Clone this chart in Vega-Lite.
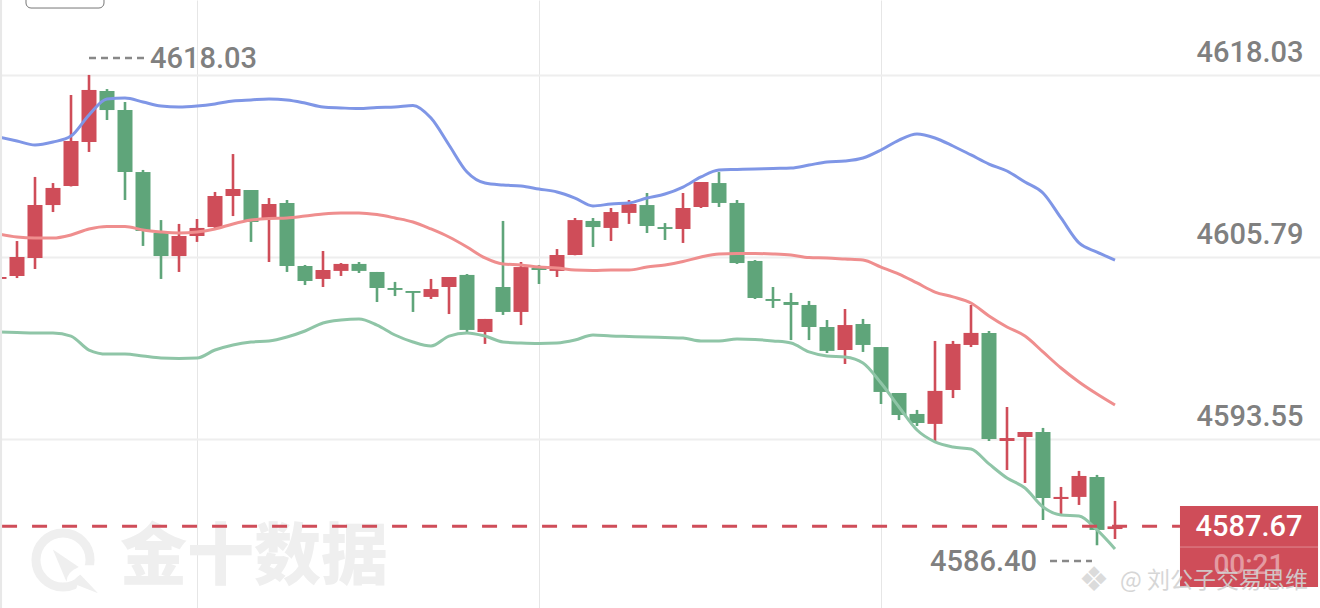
{"$schema":"https://vega.github.io/schema/vega-lite/v6.json","width":1320,"height":608,"autosize":"none","padding":0,"background":"#ffffff","config":{"view":{"stroke":null},"font":"Roboto"},
"datasets":{"k":[
{"i":-1,"o":4604.31,"h":4604.44,"l":4604.31,"c":4604.44,"up":4613.86,"mid":4607.33,"low":4600.74},
{"i":0,"o":4604.51,"h":4606.86,"l":4604.37,"c":4605.79,"up":4613.59,"mid":4607.13,"low":4600.71},
{"i":1,"o":4605.72,"h":4611.17,"l":4604.98,"c":4609.28,"up":4613.32,"mid":4607.06,"low":4600.68},
{"i":2,"o":4609.28,"h":4610.76,"l":4608.81,"c":4610.43,"up":4613.52,"mid":4607.06,"low":4600.68},
{"i":3,"o":4610.56,"h":4616.68,"l":4610.53,"c":4613.59,"up":4613.92,"mid":4607.27,"low":4600.47},
{"i":4,"o":4613.52,"h":4618.03,"l":4612.85,"c":4617.02,"up":4615.34,"mid":4607.67,"low":4599.53},
{"i":5,"o":4616.95,"h":4617.08,"l":4615.0,"c":4615.67,"up":4616.41,"mid":4607.84,"low":4599.26},
{"i":6,"o":4615.67,"h":4616.21,"l":4609.62,"c":4611.5,"up":4616.48,"mid":4607.84,"low":4599.26},
{"i":7,"o":4611.5,"h":4611.64,"l":4606.53,"c":4607.54,"up":4616.21,"mid":4607.6,"low":4599.13},
{"i":8,"o":4607.4,"h":4608.27,"l":4604.31,"c":4605.85,"up":4615.94,"mid":4607.47,"low":4598.99},
{"i":9,"o":4605.85,"h":4608.01,"l":4604.78,"c":4607.2,"up":4615.87,"mid":4607.4,"low":4598.96},
{"i":10,"o":4607.2,"h":4608.34,"l":4606.8,"c":4607.74,"up":4615.94,"mid":4607.47,"low":4598.99},
{"i":11,"o":4607.8,"h":4610.16,"l":4607.74,"c":4609.89,"up":4616.08,"mid":4607.67,"low":4599.53},
{"i":12,"o":4609.89,"h":4612.71,"l":4608.54,"c":4610.36,"up":4616.28,"mid":4608.01,"low":4599.87},
{"i":13,"o":4610.29,"h":4610.29,"l":4606.8,"c":4608.14,"up":4616.35,"mid":4608.27,"low":4600.07},
{"i":14,"o":4608.34,"h":4609.75,"l":4605.45,"c":4609.35,"up":4616.41,"mid":4608.38,"low":4600.14},
{"i":15,"o":4609.42,"h":4609.62,"l":4604.78,"c":4605.18,"up":4616.35,"mid":4608.41,"low":4600.41},
{"i":16,"o":4605.18,"h":4605.25,"l":4603.9,"c":4604.17,"up":4616.14,"mid":4608.54,"low":4600.81},
{"i":17,"o":4604.31,"h":4606.19,"l":4603.77,"c":4604.91,"up":4615.87,"mid":4608.68,"low":4601.35},
{"i":18,"o":4604.85,"h":4605.38,"l":4604.51,"c":4605.32,"up":4615.81,"mid":4608.75,"low":4601.55},
{"i":19,"o":4605.32,"h":4605.45,"l":4604.71,"c":4604.85,"up":4615.77,"mid":4608.75,"low":4601.62},
{"i":20,"o":4604.78,"h":4604.78,"l":4602.76,"c":4603.7,"up":4615.84,"mid":4608.64,"low":4601.21},
{"i":21,"o":4603.7,"h":4604.11,"l":4603.16,"c":4603.57,"up":4615.87,"mid":4608.41,"low":4600.54},
{"i":22,"o":4603.5,"h":4603.5,"l":4602.09,"c":4603.37,"up":4615.98,"mid":4608.14,"low":4600.07},
{"i":23,"o":4603.1,"h":4604.31,"l":4602.96,"c":4603.63,"up":4615.13,"mid":4607.67,"low":4599.8},
{"i":24,"o":4603.77,"h":4604.44,"l":4601.95,"c":4604.44,"up":4613.32,"mid":4607.13,"low":4600.47},
{"i":25,"o":4604.58,"h":4604.64,"l":4600.74,"c":4600.88,"up":4611.5,"mid":4606.46,"low":4600.68},
{"i":26,"o":4600.74,"h":4601.62,"l":4599.94,"c":4601.62,"up":4610.76,"mid":4605.72,"low":4600.47},
{"i":27,"o":4603.77,"h":4608.21,"l":4601.89,"c":4602.09,"up":4610.63,"mid":4605.32,"low":4600.07},
{"i":28,"o":4602.09,"h":4605.45,"l":4601.21,"c":4605.11,"up":4610.56,"mid":4605.25,"low":4600.0},
{"i":29,"o":4605.05,"h":4605.25,"l":4603.97,"c":4604.91,"up":4610.36,"mid":4605.11,"low":4599.97},
{"i":30,"o":4604.85,"h":4606.32,"l":4604.44,"c":4605.92,"up":4610.16,"mid":4605.05,"low":4600.0},
{"i":31,"o":4605.92,"h":4608.41,"l":4605.9,"c":4608.27,"up":4609.75,"mid":4604.91,"low":4600.2},
{"i":32,"o":4608.21,"h":4608.41,"l":4606.46,"c":4607.8,"up":4609.22,"mid":4604.88,"low":4600.54},
{"i":33,"o":4607.74,"h":4609.08,"l":4606.86,"c":4608.81,"up":4609.35,"mid":4604.91,"low":4600.47},
{"i":34,"o":4608.75,"h":4609.62,"l":4608.01,"c":4609.35,"up":4609.42,"mid":4604.91,"low":4600.44},
{"i":35,"o":4609.28,"h":4610.09,"l":4607.4,"c":4607.87,"up":4609.75,"mid":4605.11,"low":4600.41},
{"i":36,"o":4607.8,"h":4608.07,"l":4606.93,"c":4607.67,"up":4610.02,"mid":4605.25,"low":4600.37},
{"i":37,"o":4607.67,"h":4610.09,"l":4606.73,"c":4609.08,"up":4610.49,"mid":4605.48,"low":4600.34},
{"i":38,"o":4609.15,"h":4610.83,"l":4609.08,"c":4610.83,"up":4611.17,"mid":4605.79,"low":4600.14},
{"i":39,"o":4610.76,"h":4611.5,"l":4609.15,"c":4609.42,"up":4611.64,"mid":4605.99,"low":4600.14},
{"i":40,"o":4609.42,"h":4609.62,"l":4605.32,"c":4605.38,"up":4611.67,"mid":4606.02,"low":4600.27},
{"i":41,"o":4605.52,"h":4605.58,"l":4602.96,"c":4603.03,"up":4611.7,"mid":4606.02,"low":4600.24},
{"i":42,"o":4602.96,"h":4603.77,"l":4602.36,"c":4602.83,"up":4611.74,"mid":4605.99,"low":4600.14},
{"i":43,"o":4602.76,"h":4603.37,"l":4600.2,"c":4602.56,"up":4611.77,"mid":4605.92,"low":4600.0},
{"i":44,"o":4602.56,"h":4602.83,"l":4600.2,"c":4601.08,"up":4611.97,"mid":4605.75,"low":4599.4},
{"i":45,"o":4601.08,"h":4601.55,"l":4599.33,"c":4599.47,"up":4612.18,"mid":4605.72,"low":4599.13},
{"i":46,"o":4599.53,"h":4602.29,"l":4598.59,"c":4601.21,"up":4612.24,"mid":4605.65,"low":4599.06},
{"i":47,"o":4601.28,"h":4601.62,"l":4599.4,"c":4599.87,"up":4612.44,"mid":4605.58,"low":4598.66},
{"i":48,"o":4599.73,"h":4599.73,"l":4595.9,"c":4596.71,"up":4612.98,"mid":4605.11,"low":4597.31},
{"i":49,"o":4596.64,"h":4596.64,"l":4594.82,"c":4595.16,"up":4613.65,"mid":4604.64,"low":4595.7},
{"i":50,"o":4595.23,"h":4595.5,"l":4594.42,"c":4594.62,"up":4614.06,"mid":4604.04,"low":4594.15},
{"i":51,"o":4594.56,"h":4600.14,"l":4593.35,"c":4596.78,"up":4613.79,"mid":4603.43,"low":4593.35},
{"i":52,"o":4596.84,"h":4600.14,"l":4596.3,"c":4599.94,"up":4613.25,"mid":4603.1,"low":4593.01},
{"i":53,"o":4599.87,"h":4602.56,"l":4599.73,"c":4600.68,"up":4612.65,"mid":4602.69,"low":4592.87},
{"i":54,"o":4600.68,"h":4600.81,"l":4593.41,"c":4593.55,"up":4612.04,"mid":4601.82,"low":4591.87},
{"i":55,"o":4593.41,"h":4595.7,"l":4591.46,"c":4593.61,"up":4611.57,"mid":4601.08,"low":4590.92},
{"i":56,"o":4593.68,"h":4594.02,"l":4590.59,"c":4594.02,"up":4610.83,"mid":4600.47,"low":4590.25},
{"i":57,"o":4594.02,"h":4594.29,"l":4588.1,"c":4589.58,"up":4610.09,"mid":4599.4,"low":4588.97},
{"i":58,"o":4589.51,"h":4590.32,"l":4588.5,"c":4589.65,"up":4608.41,"mid":4598.32,"low":4588.44},
{"i":59,"o":4589.65,"h":4591.4,"l":4589.11,"c":4591.06,"up":4606.73,"mid":4597.38,"low":4588.37},
{"i":60,"o":4590.99,"h":4591.13,"l":4586.4,"c":4587.43,"up":4606.12,"mid":4596.57,"low":4587.43},
{"i":61,"o":4587.49,"h":4589.38,"l":4586.82,"c":4587.67,"up":4605.58,"mid":4595.83,"low":4586.15}
]},
"encoding":{"x":{"field":"i","type":"quantitative","title":null,"scale":{"domain":[-0.9444,72.3889],"nice":false,"zero":false,"padding":0},"axis":{"values":[10,29,48],"grid":true,"gridColor":"#e6e6e6","gridWidth":1,"labels":false,"ticks":false,"domain":false}}},
"layer":[
{"data":{"values":[{"i":2.556,"p":4585.41}]},"mark":{"type":"point","shape":"circle","filled":false,"stroke":"#efefef","strokeWidth":9,"size":2922,"opacity":1},
"encoding":{"y":{"field":"p","type":"quantitative","title":null,"scale":{"domain":[4582.18,4623.07],"nice":false,"zero":false},"axis":{"orient":"right","values":[4618.03,4605.79,4593.55,4581.3],"format":".2f","grid":true,"gridColor":"#eeeeee","gridWidth":2,"ticks":false,"domain":false,"labelOffset":-22,"labelPadding":-124,"labelAlign":"left","labelFontSize":29,"labelFontWeight":500,"labelFont":"Roboto","labelColor":"#808080","labelOverlap":false,"labelBound":false,"labelFlush":false}}}},
{"data":{"values":[{"i":2.556,"p":4585.41}]},"mark":{"type":"point","shape":"M.55 .15 L1.15 .15 L1.15 1.15 L.3 1.15 Z","filled":true,"fill":"#ffffff","stroke":null,"size":4900,"opacity":1},"encoding":{"y":{"field":"p","type":"quantitative","scale":{"domain":[4582.18,4623.07],"nice":false,"zero":false}}}},
{"data":{"values":[{"i":2.556,"p":4585.41}]},"mark":{"type":"point","shape":"M-.29 -.3 L.45 .2 Q.1 .35 .1 .62 Z M.5 .42 L1 .95 L.42 .72 Q.2 .6 .5 .42 Z","filled":true,"fill":"#efefef","stroke":null,"size":4900,"opacity":1},"encoding":{"y":{"field":"p","type":"quantitative","scale":{"domain":[4582.18,4623.07],"nice":false,"zero":false}}}},
{"data":{"values":[{"i":5.72,"p":4585.54,"label":"金十数据"}]},"mark":{"type":"text","font":"Noto Sans CJK SC","fontWeight":900,"fontSize":67,"align":"left","baseline":"middle","color":"#efefef","dy":1},"encoding":{"y":{"field":"p","type":"quantitative","scale":{"domain":[4582.18,4623.07],"nice":false,"zero":false}},"text":{"field":"label"}}},
{"data":{"values":[{"i":0.5,"i2":4.833,"p":4624,"p2":4622.53}]},"mark":{"type":"rect","filled":false,"stroke":"#777777","strokeWidth":1,"cornerRadius":5,"clip":true},"encoding":{"x2":{"field":"i2"},"y":{"field":"p","type":"quantitative","scale":{"domain":[4582.18,4623.07],"nice":false,"zero":false}},"y2":{"field":"p2"}}},
{"data":{"name":"k"},"mark":{"type":"rule","strokeWidth":2.6,"clip":true},"encoding":{"y":{"field":"h","type":"quantitative","scale":{"domain":[4582.18,4623.07],"nice":false,"zero":false}},"y2":{"field":"l"},"color":{"condition":{"test":"datum.c>=datum.o","value":"#cf4d59"},"value":"#5fa57a"}}},
{"data":{"name":"k"},"mark":{"type":"bar","size":15,"orient":"vertical","clip":true},"encoding":{"y":{"field":"o","type":"quantitative","scale":{"domain":[4582.18,4623.07],"nice":false,"zero":false}},"y2":{"field":"c"},"color":{"condition":{"test":"datum.c>=datum.o","value":"#cf4d59"},"value":"#5fa57a"}}},
{"data":{"name":"k"},"mark":{"type":"line","color":"#7f96e6","strokeWidth":3,"interpolate":"monotone","clip":true},"encoding":{"y":{"field":"up","type":"quantitative","scale":{"domain":[4582.18,4623.07],"nice":false,"zero":false}}}},
{"data":{"name":"k"},"mark":{"type":"line","color":"#ef8e8e","strokeWidth":3,"interpolate":"monotone","clip":true},"encoding":{"y":{"field":"mid","type":"quantitative","scale":{"domain":[4582.18,4623.07],"nice":false,"zero":false}}}},
{"data":{"name":"k"},"mark":{"type":"line","color":"#8fc5a7","strokeWidth":3,"interpolate":"monotone","clip":true},"encoding":{"y":{"field":"low","type":"quantitative","scale":{"domain":[4582.18,4623.07],"nice":false,"zero":false}}}},
{"data":{"values":[{"i":-0.83,"i2":64.61,"p":4587.67}]},"mark":{"type":"rule","color":"#cf4d59","strokeWidth":3,"strokeDash":[15,15]},"encoding":{"x2":{"field":"i2"},"y":{"field":"p","type":"quantitative","scale":{"domain":[4582.18,4623.07],"nice":false,"zero":false}}}},
{"data":{"values":[{"i":4,"i2":7.11,"p":4619.17},{"i":57.39,"i2":59.72,"p":4585.34}]},"mark":{"type":"rule","color":"#888888","strokeWidth":2.4,"strokeDash":[7,5]},"encoding":{"x2":{"field":"i2"},"y":{"field":"p","type":"quantitative","scale":{"domain":[4582.18,4623.07],"nice":false,"zero":false}}}},
{"data":{"values":[{"i":7.39,"p":4619.17,"label":"4618.03"}]},"mark":{"type":"text","font":"Roboto","fontWeight":500,"fontSize":29,"align":"left","baseline":"middle","color":"#808080","dy":1},"encoding":{"y":{"field":"p","type":"quantitative","scale":{"domain":[4582.18,4623.07],"nice":false,"zero":false}},"text":{"field":"label"}}},
{"data":{"values":[{"i":56.67,"p":4585.34,"label":"4586.40"}]},"mark":{"type":"text","font":"Roboto","fontWeight":500,"fontSize":29,"align":"right","baseline":"middle","color":"#808080","dy":1},"encoding":{"y":{"field":"p","type":"quantitative","scale":{"domain":[4582.18,4623.07],"nice":false,"zero":false}},"text":{"field":"label"}}},
{"data":{"values":[{"i":64.61,"i2":72.28,"p":4589.04,"p2":4583.59}]},"mark":{"type":"rect","fill":"#cf4d59"},"encoding":{"x2":{"field":"i2"},"y":{"field":"p","type":"quantitative","scale":{"domain":[4582.18,4623.07],"nice":false,"zero":false}},"y2":{"field":"p2"}}},
{"data":{"values":[{"i":64.61,"i2":72.28,"p":4586.28}]},"mark":{"type":"rule","color":"#e08a92","strokeWidth":1},"encoding":{"x2":{"field":"i2"},"y":{"field":"p","type":"quantitative","scale":{"domain":[4582.18,4623.07],"nice":false,"zero":false}}}},
{"data":{"values":[{"i":68.44,"p":4587.7,"label":"4587.67"}]},"mark":{"type":"text","font":"Roboto","fontWeight":500,"fontSize":29,"align":"center","baseline":"middle","color":"#ffffff","dy":1},"encoding":{"y":{"field":"p","type":"quantitative","scale":{"domain":[4582.18,4623.07],"nice":false,"zero":false}},"text":{"field":"label"}}},
{"data":{"values":[{"i":68.44,"p":4585.07,"label":"00:21"}]},"mark":{"type":"text","font":"Roboto","fontWeight":500,"fontSize":28,"align":"center","baseline":"middle","color":"#e49aa2","dy":1},"encoding":{"y":{"field":"p","type":"quantitative","scale":{"domain":[4582.18,4623.07],"nice":false,"zero":false}},"text":{"field":"label"}}},
{"data":{"values":[{"i":59.83,"p":4584.0,"label":"❖"}]},"mark":{"type":"text","font":"DejaVu Sans","fontSize":34,"align":"center","baseline":"middle","color":"#d8d8d8","opacity":0.9},"encoding":{"y":{"field":"p","type":"quantitative","scale":{"domain":[4582.18,4623.07],"nice":false,"zero":false}},"text":{"field":"label"}}},
{"data":{"values":[{"i":61.28,"p":4584.0,"label":"@ 刘公子交易思维"}]},"mark":{"type":"text","font":"Noto Sans CJK SC","fontSize":23,"align":"left","baseline":"middle","color":"#d2d2d2","opacity":0.9},"encoding":{"y":{"field":"p","type":"quantitative","scale":{"domain":[4582.18,4623.07],"nice":false,"zero":false}},"text":{"field":"label"}}},
{"data":{"values":[{"i":-0.9,"p":4623.07,"p2":4582.18}]},"mark":{"type":"rule","color":"#e8e8e8","strokeWidth":2.5},"encoding":{"y":{"field":"p","type":"quantitative","scale":{"domain":[4582.18,4623.07],"nice":false,"zero":false}},"y2":{"field":"p2"}}}
]}
